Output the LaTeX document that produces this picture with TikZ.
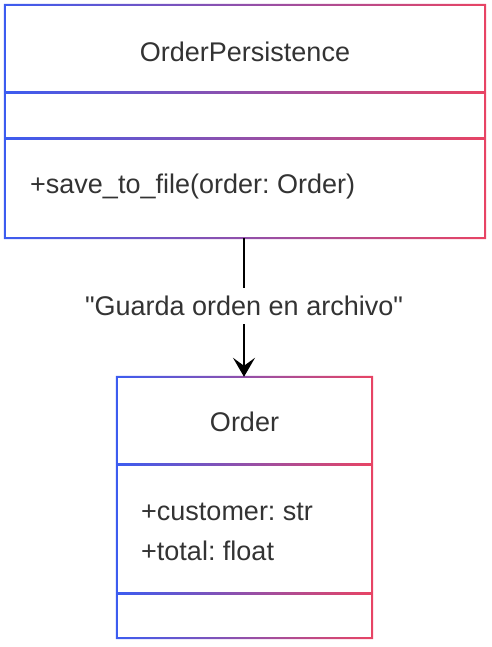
\documentclass[tikz,border=0pt]{standalone}
\usepackage{fontspec}
\setmainfont{Liberation Sans}[Ligatures=TeXOff]
\usetikzlibrary{arrows.meta}
\definecolor{cblue}{RGB}{60,92,240}
\definecolor{cred}{RGB}{232,68,100}
\definecolor{ctext}{RGB}{51,51,51}
\frenchspacing
\tikzset{
  box/.style={draw=none, inner sep=0pt},
  txt/.style={text=ctext, font=\fontsize{27}{32}\selectfont, inner sep=0pt},
  grad/.style={left color=cblue, right color=cred},
  conn/.style={draw=black, line width=2pt, -{Stealth[length=19pt, width=22pt, inset=8pt]}},
  lbl/.style={txt, fill=white, inner xsep=4pt, inner ysep=8pt}
}
\begin{document}
\begin{tikzpicture}[x=1pt, y=-1pt]
\useasboundingbox (0,0) rectangle (491,647);
% boxes
\node[box, minimum width=480pt, minimum height=233pt] (op) at (245,121.5) {};
\node[box, minimum width=255pt, minimum height=261pt] (ord) at (244.5,507.5) {};
% frames
\shade[grad, even odd rule]
  ([shift={(-1pt,1pt)}]op.north west) rectangle ([shift={(1pt,-1pt)}]op.south east)
  ([shift={(1pt,-1pt)}]op.north west) rectangle ([shift={(-1pt,1pt)}]op.south east);
\shade[grad] (5,92) rectangle (485,94);
\shade[grad] (5,138) rectangle (485,140);
\shade[grad, even odd rule]
  ([shift={(-1pt,1pt)}]ord.north west) rectangle ([shift={(1pt,-1pt)}]ord.south east)
  ([shift={(1pt,-1pt)}]ord.north west) rectangle ([shift={(-1pt,1pt)}]ord.south east);
\shade[grad] (117,463) rectangle (372,465);
\shade[grad] (117,592) rectangle (372,594);
% texts
\node[txt] (opname) at (245,52) {OrderPersistence};
\node[txt, anchor=west] (opm) at (30,187) {+save\_to\_file(order: Order)};
\node[txt] (ordname) at (244.5,422) {Order};
\node[txt, anchor=west] (ora) at (141,512) {+customer: str};
\node[txt, anchor=west] (orb) at (141,551) {+total: float};
% connector
\draw[conn] (op.south -| 244,0) -- (ord.north -| 244,0)
  node[lbl, pos=0.49] (lab) {"Guarda orden en archivo"};
\end{tikzpicture}
\end{document}
